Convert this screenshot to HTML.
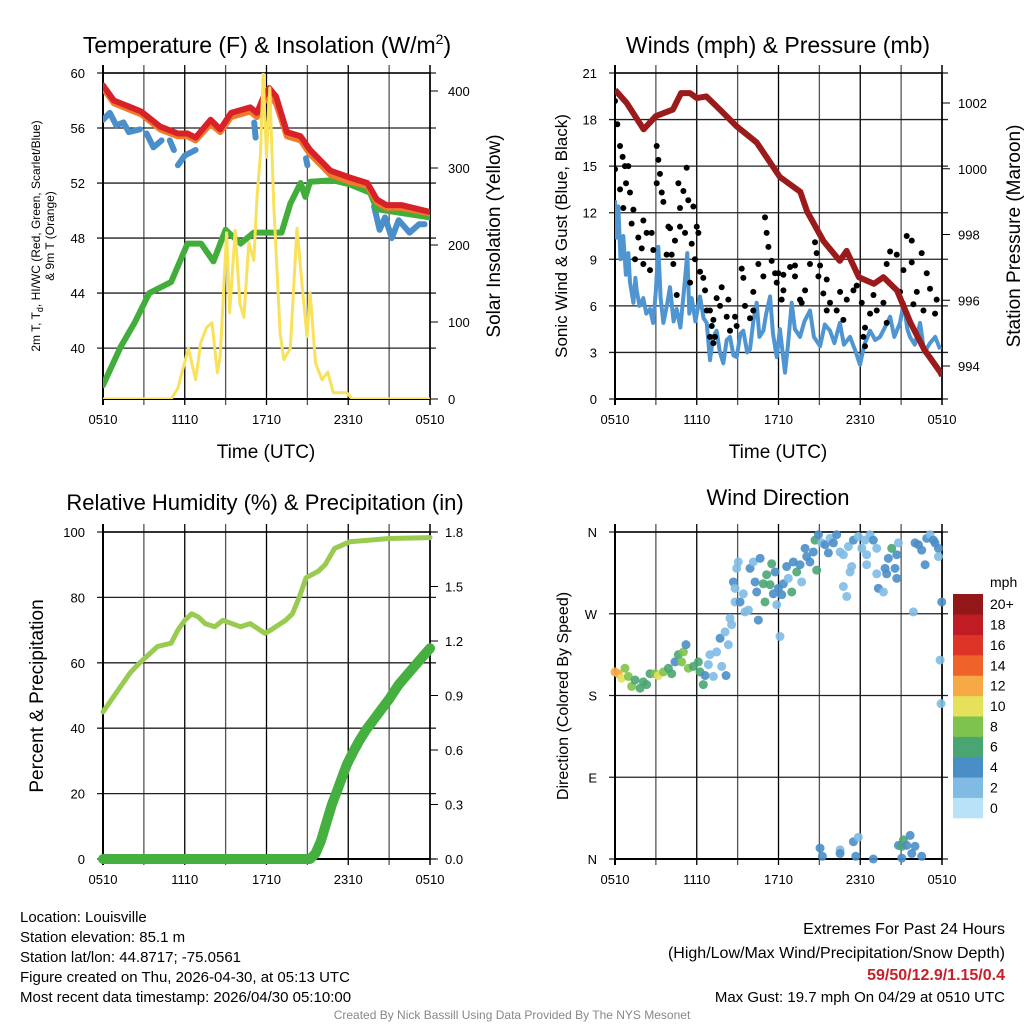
<!DOCTYPE html>
<html><head><meta charset="utf-8"><style>
html,body{margin:0;padding:0;background:#fff;}
svg{display:block;font-family:"Liberation Sans",Arial,sans-serif;}
</style></head><body>
<svg id="c" width="1024" height="1024" viewBox="0 0 1024 1024" xmlns="http://www.w3.org/2000/svg">
<rect width="1024" height="1024" fill="#fff"/>
<text x="267" y="53" font-size="23" text-anchor="middle">Temperature (F) &amp; Insolation (W/m<tspan font-size="14" dy="-9">2</tspan><tspan dy="9">)</tspan></text>
<text x="778" y="53" font-size="23" text-anchor="middle">Winds (mph) &amp; Pressure (mb)</text>
<text x="265" y="510" font-size="22" text-anchor="middle">Relative Humidity (%) &amp; Precipitation (in)</text>
<text x="778" y="505" font-size="22" text-anchor="middle">Wind Direction</text>
<text x="266" y="458" font-size="19" text-anchor="middle">Time (UTC)</text>
<text x="778" y="458" font-size="19" text-anchor="middle">Time (UTC)</text>
<text font-size="12" text-anchor="middle" transform="translate(40,236) rotate(-90)">2m T, T<tspan font-size="9" dy="3">d</tspan><tspan dy="-3">, HI/WC (Red, Green, Scarlet/Blue)</tspan></text>
<text font-size="12" text-anchor="middle" transform="translate(54,236) rotate(-90)">&amp; 9m T (Orange)</text>
<text font-size="19" text-anchor="middle" transform="translate(500,236) rotate(-90)">Solar Insolation (Yellow)</text>
<text font-size="17" text-anchor="middle" transform="translate(567,236) rotate(-90)">Sonic Wind &amp; Gust (Blue, Black)</text>
<text font-size="19" text-anchor="middle" transform="translate(1020,236) rotate(-90)">Station Pressure (Maroon)</text>
<text font-size="19" text-anchor="middle" transform="translate(43,696) rotate(-90)">Percent &amp; Precipitation</text>
<text font-size="16" text-anchor="middle" transform="translate(568,696) rotate(-90)">Direction (Colored By Speed)</text>
<g id="footer" font-size="15">
<text x="20" y="922">Location: Louisville</text>
<text x="20" y="942">Station elevation: 85.1 m</text>
<text x="20" y="962">Station lat/lon: 44.8717; -75.0561</text>
<text x="20" y="982">Figure created on Thu, 2026-04-30, at 05:13 UTC</text>
<text x="20" y="1002">Most recent data timestamp: 2026/04/30 05:10:00</text>
<text x="1005" y="934" text-anchor="end" font-size="16">Extremes For Past 24 Hours</text>
<text x="1005" y="958" text-anchor="end" font-size="16">(High/Low/Max Wind/Precipitation/Snow Depth)</text>
<text x="1005" y="980" text-anchor="end" font-size="16" font-weight="bold" fill="#c8202a">59/50/12.9/1.15/0.4</text>
<text x="1005" y="1002" text-anchor="end" font-size="15">Max Gust: 19.7 mph On 04/29 at 0510 UTC</text>
<text x="512" y="1019" text-anchor="middle" font-size="12" fill="#888">Created By Nick Bassill Using Data Provided By The NYS Mesonet</text>
</g>
</svg>
<script>
// ---------- Temperature panel data ----------
const redH=[0,0.8,2.8,4.2,5.5,6.2,6.8,7.9,8.6,9.4,10.8,11.3,11.8,12.2,12.7,13.5,14.5,15.2,16.7,18.1,19.4,20.1,20.8,21.9,24];
const redT=[59.1,58,57.2,56.1,55.6,55.6,55.3,56.6,55.9,57.1,57.5,57.1,58.3,58.9,58.3,55.7,55.4,54.4,52.9,52.4,52,50.8,50.4,50.4,49.9];
const orangeT=[58.9,57.8,57.0,55.9,55.4,55.4,55.1,56.3,55.7,56.8,57.2,56.8,57.9,58.4,57.8,55.4,55.1,54.1,52.6,52.1,51.8,50.6,50.2,50.2,49.8];
const blueH=[0,0.5,0.97,1.5,1.9,2.7,null,3.2,3.7,4.3,null,4.9,5.2,null,5.5,6.0,6.8,null,11.1,11.2,null,14.9,15.0,null,19.9,20.3,20.7,20.9,21.2,21.7,22.5,23.2,23.6];
const blueT=[56.6,57.1,56.2,56.4,55.7,55.9,null,55.6,54.6,55.1,null,55.1,54.4,null,53.3,54,54.4,null,56.4,55.3,null,53.8,53.3,null,50.3,48.6,49.5,48.9,48,49.3,48.4,49,49];
const greenH=[0,1.3,2.3,3.4,5.0,6.2,7.2,8.1,9.0,10.1,11.07,11.8,13.1,13.75,14.5,14.85,15.2,16.9,18.1,19.6,20.1,24];
const greenT=[37.3,40.1,41.8,44,44.8,47.6,47.6,46.3,48.6,47.6,48.4,48.4,48.4,50.5,52,51,52.1,52.2,51.9,51.3,50.1,49.5];
const solarH=[0,5.0,5.5,6.27,6.8,7.17,7.6,8.0,8.4,8.6,9.07,9.3,9.7,10.05,10.34,10.7,11.07,11.3,11.56,11.76,12.0,12.24,12.53,13.0,13.27,13.75,14.24,14.6,14.97,15.2,15.6,16.07,16.5,16.9,17.9,18.3,24];
const solarW=[0,0,14,66,25,73,93,99,34,55,216,112,219,124,106,203,180,262,319,423,314,404,254,86,51,66,222,151,81,138,47,25,35,8,8,0,0];
const tempTicks=[40,44,48,52,56,60];
const solarTicks=[0,100,200,300,400];
const timeLabels=["0510","1110","1710","2310","0510"];
// ---------- Wind panel data ----------
const windH=[0,0.12,0.24,0.4,0.61,0.8,0.98,1.1,1.35,1.5,1.59,1.8,2.08,2.3,2.57,2.8,3.0,3.18,3.35,3.55,3.8,4.04,4.3,4.53,4.8,5.14,5.31,5.45,5.63,5.9,6.24,6.5,6.73,6.97,7.2,7.46,7.7,7.95,8.2,8.44,8.7,8.93,9.2,9.42,9.7,9.91,10.15,10.4,10.6,10.89,11.1,11.38,11.6,11.87,12.1,12.3,12.48,12.7,12.97,13.2,13.58,13.9,14.31,14.6,15.05,15.4,15.78,16.1,16.51,16.8,17.25,17.6,17.98,18.3,18.72,19.1,19.45,19.8,20.19,20.5,20.92,21.2,21.45,21.65,22.0,22.39,22.7,23.12,23.5,23.86];
const windV=[12.8,10.4,12.4,9.0,10.5,8.0,9.4,7.5,6.2,7.8,7.0,6.0,6.5,5.5,5.8,4.9,7.0,9.8,6.5,4.9,6.0,7.2,5.0,5.8,4.6,7.7,9.4,5.5,6.5,5.0,6.6,5.2,4.9,2.5,4.0,4.4,3.0,2.3,3.8,4.0,2.8,2.7,4.2,4.4,3.0,3.2,5.0,6.2,4.0,4.4,5.5,6.6,4.2,2.7,4.5,3.0,1.7,3.5,6.2,4.5,4.0,5.0,5.7,4.0,3.4,4.8,4.4,3.6,4.9,3.5,4.0,3.2,2.2,3.5,4.4,3.8,4.0,4.6,5.3,4.0,4.9,6.2,4.5,4.0,3.5,4.9,3.0,3.6,4.0,3.2];
const gustH=[0,0.17,0.37,0.56,0,0.73,0.98,0.37,0.81,1.10,0.61,1.35,1.22,2.08,1.71,1.96,1.47,2.32,2.69,2.08,2.57,2.81,3.06,3.18,3.30,3.06,3.43,3.55,3.92,4.04,4.40,3.79,4.16,4.28,4.65,5.26,4.77,5.02,5.38,5.75,4.77,5.14,5.63,6.00,6.12,5.87,4.53,5.51,6.24,6.48,6.61,6.73,6.97,7.46,7.22,7.10,7.34,7.22,7.83,8.20,8.32,8.81,8.44,8.93,9.30,9.42,9.54,10.15,10.52,10.15,10.89,11.01,11.13,11.26,11.50,11.75,11.99,11.87,12.36,12.23,12.85,13.21,13.21,13.58,13.95,14.31,14.80,14.68,15.05,14.93,15.29,15.54,15.78,16.27,16.52,17.01,16.76,17.50,17.74,18.11,18.35,18.35,18.72,19.21,18.97,19.70,19.94,20.19,20.68,20.92,21.17,21.41,21.78,21.90,22.15,22.51,21.78,22.88,23.12,23.61,23.49,22.64,19.94,18.23,15.54,13.70,9.91,7.71,6.97,12.36];
const gustV=[19.2,17.7,16.3,15.6,14.8,15.0,15.0,13.5,13.9,13.3,12.3,12.2,11.3,11.5,10.4,9.7,9.0,10.7,10.7,8.7,8.3,9.6,16.3,15.4,14.5,13.9,13.3,12.7,11.1,11.0,10.2,9.3,9.3,8.7,13.9,14.9,12.3,13.4,12.8,12.4,11.1,10.7,10.0,11.1,10.7,9.0,6.7,7.5,8.2,7.8,7.0,5.7,5.7,6.5,5.1,4.7,4.0,3.6,7.2,5.3,6.4,5.3,4.4,4.7,8.4,7.8,6.0,6.9,8.7,5.7,7.9,11.7,10.7,9.8,8.9,8.1,8.1,7.5,7.0,6.4,8.5,8.6,7.9,6.4,7.0,8.7,9.4,10.1,8.6,7.9,6.8,7.7,6.2,5.7,6.9,6.4,5.1,7.0,7.3,6.2,4.6,3.4,5.5,5.7,6.7,6.2,8.7,9.5,9.3,6.9,8.3,10.5,10.2,6.1,6.9,9.4,8.8,8.1,7.1,6.4,5.5,5.7,4.9,4.0,5.7,6.2,5.2,6.0,4.0,8.0];
const presH=[0,0.86,2.1,3.0,4.25,4.85,5.5,6.0,6.7,7.7,8.9,10.4,12.1,13.6,14.1,15.3,16.5,17.0,17.9,19.0,19.7,20.7,21.7,22.7,23.9,24];
const presV=[1002.4,1002,1001.2,1001.6,1001.8,1002.3,1002.3,1002.15,1002.2,1001.8,1001.3,1000.8,999.75,999.3,998.7,997.8,997.2,997.5,996.7,996.5,996.7,996.3,995.3,994.5,993.8,993.7];
const windTicks=[0,3,6,9,12,15,18,21];
const presTicks=[994,996,998,1000,1002];
// ---------- RH panel data ----------
const rhH=[0,2,2.7,4,5,5.5,6,6.5,7,7.5,8.2,8.8,10.1,10.8,11.9,12.3,13.4,13.9,14.4,14.9,15.8,16.3,17,18.1,21,24];
const rhV=[45,57,60,65,66,70,73,75,74,72,71,73,71,72,69,70,73,75,80,86,88,90,95,97,98,98.3];
const pcpH=[0,15.2,15.6,16.0,16.4,16.8,17.2,17.6,17.9,18.3,18.8,19.3,19.8,20.4,21.0,21.7,22.5,23.3,24];
const pcpV=[0,0,0.03,0.1,0.2,0.3,0.38,0.46,0.52,0.58,0.65,0.71,0.76,0.82,0.88,0.96,1.03,1.1,1.16];
const rhTicks=[0,20,40,60,80,100];
const pcpTicks=["0.0","0.3","0.6","0.9","1.2","1.5","1.8"];
// ---------- Wind direction data ----------
const dirH=[0,0.24,0.49,0.73,0.98,1.22,1.47,1.84,2.08,2.32,2.57,2.94,3.18,3.55,3.92,4.16,4.40,4.65,4.89,5.02,5.21,5.38,5.75,6.12,6.24,6.48,6.61,6.85,6.97,7.22,7.46,7.71,7.83,8.08,8.15,8.32,8.44,8.56,8.69,8.81,8.93,9.05,8.81,9.18,9.42,9.54,9.79,9.91,10.15,10.28,10.40,10.52,10.65,10.89,11.01,11.13,11.38,11.50,11.62,11.75,11.87,11.99,12.11,12.24,12.36,12.60,12.72,12.97,13.09,13.34,13.58,13.70,13.95,14.07,14.31,14.56,14.68,14.80,14.93,15.17,15.42,15.66,15.78,16.03,16.27,16.52,16.76,17.13,17.25,17.37,16.76,17.01,17.50,17.86,18.11,18.35,18.47,18.47,18.72,18.96,19.21,19.21,19.33,19.70,19.82,19.94,20.06,20.31,20.55,20.68,20.68,20.80,21.90,22.02,22.27,22.51,22.76,22.88,23.12,23.37,23.49,23.74,23.74,23.98,23.86,23.93,15.05,15.22,16.52,16.52,17.50,17.86,17.67,18.96,20.80,21.05,21.17,21.41,21.66,21.78,22.02,22.51,21.05];
const dirV=[206,204,199,210,201,190,197,188,195,192,204,204,202,206,210,204,217,225,217,228,236,210,212,217,206,192,202,214,225,201,228,243,212,250,202,236,265,258,305,298,320,327,283,283,292,272,274,320,327,305,294,263,331,303,283,313,302,325,292,316,280,298,245,291,303,322,309,294,327,316,324,305,342,333,327,338,351,318,357,348,346,337,353,348,357,338,335,344,316,322,300,289,351,355,342,351,335,324,357,351,342,314,298,294,320,314,331,342,320,335,309,348,272,348,346,340,324,353,357,351,348,342,333,283,219,171,12,3,10,6,19,24,3,0,15,14,21,15,26,6,14,3,1];
const dirSpd=[12,12,10,8,8,8,6,6,6,6,6,8,10,8,6,6,4,6,8,8,4,8,6,6,6,6,4,2,2,2,2,4,2,2,4,2,2,2,4,2,2,2,2,4,2,2,2,4,2,4,4,4,4,6,6,6,6,6,4,4,2,4,2,4,4,4,2,6,4,6,4,2,4,4,4,4,6,6,4,2,4,4,2,4,4,2,2,2,2,2,2,2,4,2,2,2,2,2,2,4,2,2,4,2,4,4,4,6,4,4,4,2,2,4,4,4,4,4,2,4,4,4,2,4,2,2,4,4,2,4,4,2,4,4,4,6,6,4,4,4,4,4,4,4];
const dirTicks=["N","E","S","W","N"];
const cbLabels=["0","2","4","6","8","10","12","14","16","18","20+"];
const cbColors=["#b7e2f7","#80bbe4","#4a8ec7","#49a672","#7ec34b","#e6e15a","#f6a945","#ef632a","#de3427","#bf1c24","#931718"];

const NS="http://www.w3.org/2000/svg";
const svg=document.getElementById('c');
function mk(tag,at,parent){const e=document.createElementNS(NS,tag);for(const k in at)e.setAttribute(k,at[k]);(parent||svg).appendChild(e);return e;}
function lin(d0,d1,r0,r1){return v=>r0+(v-d0)*(r1-r0)/(d1-d0);}
function pathOf(xs,ys,fx,fy){let d="",pen=false;for(let i=0;i<xs.length;i++){if(xs[i]===null||ys[i]===null){pen=false;continue;}d+=(pen?"L":"M")+fx(xs[i]).toFixed(1)+","+fy(ys[i]).toFixed(1);pen=true;}return d;}
function frame(x0,x1,y0,y1,yGrid,name){
  const g=mk('g',{});
  
  
  for(let h=3;h<24;h+=3){const x=x0+h*(x1-x0)/24;mk('line',{x1:x,x2:x,y1:y0-8,y2:y1+6,stroke:h%6?"#555":"#000","stroke-width":1.3},g);}
  yGrid.forEach(y=>mk('line',{x1:x0-6,x2:x1+6,y1:y,y2:y,stroke:"#222","stroke-width":1.3},g));
  mk('rect',{x:x0,y:y0,width:x1-x0,height:y1-y0,fill:"none",stroke:"#000","stroke-width":1.5},g);
  mk('line',{x1:x0,x2:x0,y1:y0-8,y2:y1+6,stroke:"#000","stroke-width":2},g);
  mk('line',{x1:x1,x2:x1,y1:y0-8,y2:y1+6,stroke:"#000","stroke-width":1.5},g);
  const ty=y1+25;
  timeLabels.forEach((t,i)=>{const e=mk('text',{x:x0+i*(x1-x0)/4,y:ty,"font-size":13,"text-anchor":"middle"},g);e.textContent=t;
    
    });
  mk('line',{x1:x0,x2:x1,y1:y1,y2:y1,stroke:"#000","stroke-width":2},g);
}
function label(x,y,t,anchor,name){const e=mk('text',{x:x,y:y+5,"font-size":13,"text-anchor":anchor});e.textContent=t;
  
  }

// ---------- Panel 1 ----------
(function(){
  const X=lin(0,24,103,430), Y=lin(60,36.3,73,399), S=lin(0,400,399,91);
  frame(103,430,73,399,tempTicks.map(Y),'temp');
  tempTicks.forEach(t=>label(85,Y(t),String(t),"end",'temp-y-tick-label'));
  solarTicks.forEach(t=>{label(448,S(t),String(t),"start",'solar-y-tick-label');mk('line',{x1:430,x2:438,y1:S(t),y2:S(t),stroke:"#000"});});
  const clip=mk('clipPath',{id:"cp1"});mk('rect',{x:103,y:73,width:327,height:326},clip);
  const g=mk('g',{"clip-path":"url(#cp1)"});
  const series=[[blueH,blueT,"#4a8fca",6,'blue-temp-line',Y],[greenH,greenT,"#43ad3c",6,'dewpoint-line',Y],[redH,orangeT,"#f07a2a",6,'orange-temp-line',Y],[redH,redT,"#d62228",6,'red-temp-line',Y],[solarH,solarW,"#f9e25a",3,'solar-line',S]];
  series.forEach(s=>{const p=mk('path',{d:pathOf(s[0],s[1],X,s[5]),fill:"none",stroke:s[2],"stroke-width":s[3],"stroke-linejoin":"round","stroke-linecap":"round"},g);
    
    });
})();
// ---------- Panel 2 ----------
(function(){
  const X=lin(0,24,615,942), Y=lin(0,21,399,73), P=lin(994,1002,366,103);
  frame(615,942,73,399,windTicks.map(Y),'wind');
  windTicks.forEach(t=>label(597,Y(t),String(t),"end",'wind-y-tick-label'));
  presTicks.forEach(t=>{label(958,P(t),String(t),"start",'pressure-y-tick-label');mk('line',{x1:942,x2:950,y1:P(t),y2:P(t),stroke:"#000"});});
  const clip=mk('clipPath',{id:"cp2"});mk('rect',{x:615,y:73,width:327,height:326},clip);
  const g=mk('g',{"clip-path":"url(#cp2)"});
  const w=mk('path',{d:pathOf(windH,windV,X,Y),fill:"none",stroke:"#4f95d2","stroke-width":4,"stroke-linejoin":"round"},g);
  
  
  gustH.forEach((h,i)=>{const c=mk('circle',{cx:X(h),cy:Y(gustV[i]),r:3,fill:"#000"},g);
    
    });
  const p=mk('path',{d:pathOf(presH,presV,X,P),fill:"none",stroke:"#9b1a1c","stroke-width":6,"stroke-linejoin":"round"},g);
  
  
})();
// ---------- Panel 3 ----------
(function(){
  const X=lin(0,24,103,430), Y=lin(0,100,859,532), Q=lin(0,1.8,859,532);
  frame(103,430,532,859,rhTicks.map(Y),'rh');
  rhTicks.forEach(t=>label(85,Y(t),String(t),"end",'rh-y-tick-label'));
  pcpTicks.forEach(t=>{label(445,Q(+t),t,"start",'precip-y-tick-label');mk('line',{x1:430,x2:438,y1:Q(+t),y2:Q(+t),stroke:"#000"});});
  const p=mk('path',{d:pathOf(pcpH,pcpV,X,Q),fill:"none",stroke:"#45b03f","stroke-width":10,"stroke-linejoin":"round","stroke-linecap":"round"});
  
  
  const r=mk('path',{d:pathOf(rhH,rhV,X,Y),fill:"none",stroke:"#98cb4f","stroke-width":5,"stroke-linejoin":"round","stroke-linecap":"round"});
  
  
})();
// ---------- Panel 4 ----------
(function(){
  const X=lin(0,24,615,942), Y=lin(0,360,859,532);
  frame(615,942,532,859,[0,90,180,270,360].map(Y),'winddir');
  dirTicks.forEach((t,i)=>label(597,Y(i*90),t,"end",'dir-y-tick-label'));
  const g=mk('g',{"fill-opacity":0.9});
  dirH.forEach((h,i)=>{const lvl=Math.min(10,Math.floor(dirSpd[i]/2));const c=mk('circle',{cx:X(h),cy:Y(dirV[i]),r:4.5,fill:cbColors[lvl]},g);
    
    });
  const cb=mk('g',{});
  
  
  const bh=224/11;
  cbColors.forEach((col,i)=>{mk('rect',{x:953,y:818-(i+1)*bh,width:30,height:bh+0.3,fill:col},cb);
    const t=mk('text',{x:990,y:818-(i+0.5)*bh+5,"font-size":14},cb);t.textContent=cbLabels[i];
    
    });
  const u=mk('text',{x:990,y:587,"font-size":14},cb);u.textContent="mph";
  
  
})();
</script>
</body></html>
